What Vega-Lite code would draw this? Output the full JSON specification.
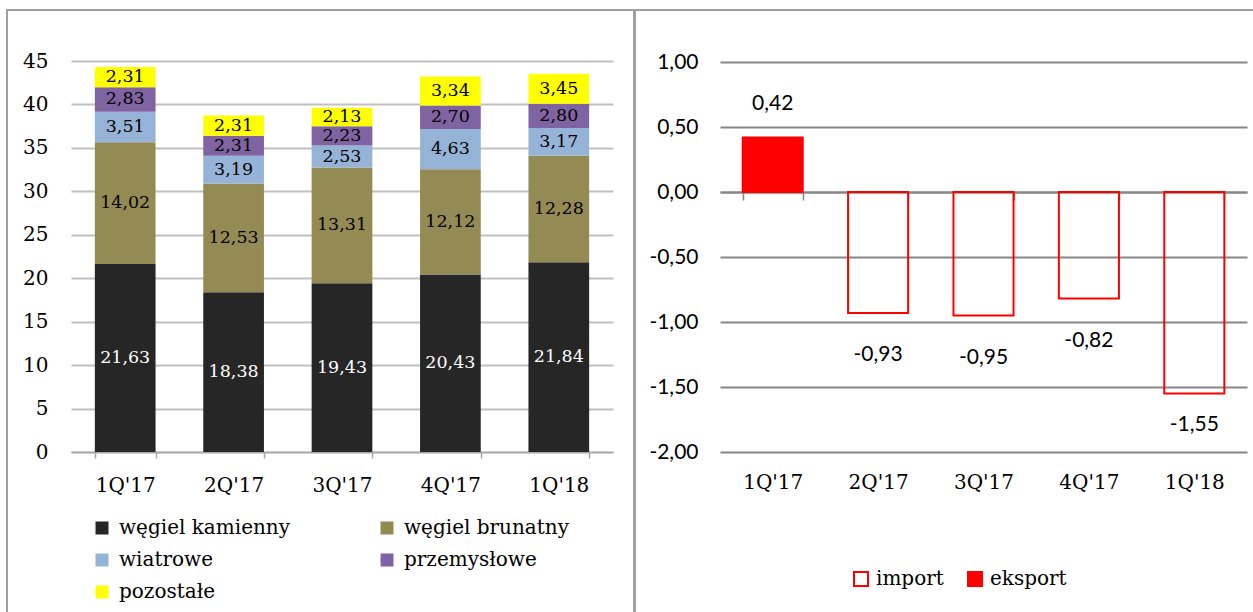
{
  "$schema": "https://vega.github.io/schema/vega-lite/v6.json",
  "padding": {"left": 6, "top": 9, "right": 0, "bottom": 0},
  "spacing": -2,
  "background": "white",
  "config": {
    "view": {"stroke": "#A0A0A0", "strokeWidth": 2},
    "font": "DejaVu Serif",
    "locale": {"number": {"decimal": ",", "thousands": " ", "grouping": [3], "currency": ["", " zł"], "minus": "-"}}
  },
  "datasets": {
    "gen": [
      {"q": "1Q'17", "s": "węgiel kamienny", "v": 21.63},
      {"q": "1Q'17", "s": "węgiel brunatny", "v": 14.02},
      {"q": "1Q'17", "s": "wiatrowe", "v": 3.51},
      {"q": "1Q'17", "s": "przemysłowe", "v": 2.83},
      {"q": "1Q'17", "s": "pozostałe", "v": 2.31},
      {"q": "2Q'17", "s": "węgiel kamienny", "v": 18.38},
      {"q": "2Q'17", "s": "węgiel brunatny", "v": 12.53},
      {"q": "2Q'17", "s": "wiatrowe", "v": 3.19},
      {"q": "2Q'17", "s": "przemysłowe", "v": 2.31},
      {"q": "2Q'17", "s": "pozostałe", "v": 2.31},
      {"q": "3Q'17", "s": "węgiel kamienny", "v": 19.43},
      {"q": "3Q'17", "s": "węgiel brunatny", "v": 13.31},
      {"q": "3Q'17", "s": "wiatrowe", "v": 2.53},
      {"q": "3Q'17", "s": "przemysłowe", "v": 2.23},
      {"q": "3Q'17", "s": "pozostałe", "v": 2.13},
      {"q": "4Q'17", "s": "węgiel kamienny", "v": 20.43},
      {"q": "4Q'17", "s": "węgiel brunatny", "v": 12.12},
      {"q": "4Q'17", "s": "wiatrowe", "v": 4.63},
      {"q": "4Q'17", "s": "przemysłowe", "v": 2.70},
      {"q": "4Q'17", "s": "pozostałe", "v": 3.34},
      {"q": "1Q'18", "s": "węgiel kamienny", "v": 21.84},
      {"q": "1Q'18", "s": "węgiel brunatny", "v": 12.28},
      {"q": "1Q'18", "s": "wiatrowe", "v": 3.17},
      {"q": "1Q'18", "s": "przemysłowe", "v": 2.80},
      {"q": "1Q'18", "s": "pozostałe", "v": 3.45}
    ],
    "bal": [
      {"q": "1Q'17", "t": "eksport", "v": 0.42},
      {"q": "2Q'17", "t": "import", "v": -0.93},
      {"q": "3Q'17", "t": "import", "v": -0.95},
      {"q": "4Q'17", "t": "import", "v": -0.82},
      {"q": "1Q'18", "t": "import", "v": -1.55}
    ]
  },
  "hconcat": [
    {
      "width": 627,
      "height": 604,
      "data": {"name": "gen"},
      "transform": [
        {"stack": "v", "groupby": ["q"], "sort": [{"field": "s", "order": "descending"}], "as": ["v0", "v1"]}
      ],
      "encoding": {
        "x": {
          "field": "q", "type": "nominal", "sort": null,
          "scale": {"range": [64, 606], "paddingInner": 0.44, "paddingOuter": 0.22},
          "axis": {"title": null, "labelAngle": 0, "labelFontSize": 20, "labelColor": "black", "labelFont": "DejaVu Serif",
                   "offset": -162, "domainColor": "#A6A6A6", "domainWidth": 1.5, "tickColor": "#A6A6A6", "tickWidth": 1.5, "tickSize": 6,
                   "tickBand": "extent", "labelPadding": 17}
        }
      },
      "layer": [
        {
          "mark": {"type": "bar"},
          "encoding": {
            "y": {"field": "v0", "type": "quantitative", "scale": {"domain": [0, 45], "nice": false, "range": [442, 51]},
                  "axis": {"title": null, "values": [0, 5, 10, 15, 20, 25, 30, 35, 40, 45], "format": "d", "offset": -64,
                           "labelFontSize": 20, "labelColor": "black", "labelFont": "DejaVu Serif",
                           "domain": false, "ticks": false, "tickSize": 0, "labelPadding": 23,
                           "gridColor": "#C0C0C0", "gridWidth": 2}},
            "y2": {"field": "v1"},
            "color": {
              "field": "s", "type": "nominal",
              "scale": {"domain": ["węgiel kamienny", "węgiel brunatny", "wiatrowe", "przemysłowe", "pozostałe"],
                        "range": ["#262626", "#948A54", "#95B3D7", "#8064A2", "#FFFF00"]},
              "legend": {"orient": "none", "legendX": 85, "legendY": 508, "direction": "horizontal", "columns": 2,
                         "title": null, "symbolType": "square", "symbolSize": 169, "symbolStrokeWidth": 0,
                         "labelFontSize": 20, "labelFont": "DejaVu Serif", "labelColor": "black", "labelOffset": 7,
                         "columnPadding": 86, "rowPadding": 12, "labelLimit": 400}
            }
          }
        },
        {
          "transform": [{"fold": ["v0", "v1"], "as": ["k", "p"]}],
          "mark": {"type": "text", "fontSize": 17.5, "font": "DejaVu Serif", "baseline": "middle"},
          "encoding": {
            "y": {"aggregate": "mean", "field": "p", "type": "quantitative"},
            "text": {"field": "v", "type": "quantitative", "format": ".2f"},
            "detail": {"field": "s"},
            "color": {"condition": {"test": "datum.s === 'węgiel kamienny'", "value": "white"}, "value": "black"}
          }
        }
      ]
    },
    {
      "width": 620,
      "height": 604,
      "data": {"name": "bal"},
      "encoding": {
        "x": {
          "field": "q", "type": "nominal", "sort": null,
          "scale": {"range": [85, 612], "paddingInner": 0.43, "paddingOuter": 0.215},
          "axis": {"title": null, "labelAngle": 0, "labelFontSize": 20, "labelColor": "black", "labelFont": "DejaVu Serif",
                   "offset": -422, "labelPadding": 272, "tickBand": "extent", "tickSize": 8,
                   "domainColor": "#868686", "domainWidth": 2, "tickColor": "#868686", "tickWidth": 1.5}
        },
        "y": {
          "field": "v", "type": "quantitative", "scale": {"domain": [-2, 1], "nice": false, "range": [442, 52]},
          "axis": {"title": null, "values": [-2, -1.5, -1, -0.5, 0, 0.5, 1], "format": ".2f", "offset": -85,
                   "labelFont": "Lato", "labelFontSize": 21, "labelColor": "black",
                   "domain": false, "ticks": false, "tickSize": 0, "labelPadding": 22,
                   "gridColor": "#868686", "gridWidth": 2}
        }
      },
      "layer": [
        {
          "mark": {"type": "bar", "strokeWidth": 2},
          "encoding": {
            "fill": {"field": "t", "type": "nominal",
                     "scale": {"domain": ["import", "eksport"], "range": ["transparent", "#FF0000"]},
                     "legend": {"orient": "none", "legendX": 844, "legendY": 559, "direction": "horizontal", "title": null,
                                "symbolType": "square", "symbolSize": 196, "symbolStrokeColor": "#FF0000", "symbolStrokeWidth": 2,
                                "labelFontSize": 20, "labelFont": "DejaVu Serif", "labelColor": "black", "labelOffset": 5,
                                "columnPadding": 20}},
            "stroke": {"field": "t", "type": "nominal",
                       "scale": {"domain": ["import", "eksport"], "range": ["#FF0000", "#FF0000"]},
                       "legend": null}
          }
        },
        {
          "transform": [{"filter": "datum.v > 0"}],
          "mark": {"type": "text", "font": "Lato", "fontSize": 21, "dy": -33, "baseline": "middle"},
          "encoding": {"text": {"field": "v", "type": "quantitative", "format": ".2f"}}
        },
        {
          "transform": [{"filter": "datum.v < 0 && datum.v > -1.2"}],
          "mark": {"type": "text", "font": "Lato", "fontSize": 21, "dy": 42, "baseline": "middle"},
          "encoding": {"text": {"field": "v", "type": "quantitative", "format": ".2f"}}
        },
        {
          "transform": [{"filter": "datum.v <= -1.2"}],
          "mark": {"type": "text", "font": "Lato", "fontSize": 21, "dy": 31, "baseline": "middle"},
          "encoding": {"text": {"field": "v", "type": "quantitative", "format": ".2f"}}
        }
      ]
    }
  ]
}
